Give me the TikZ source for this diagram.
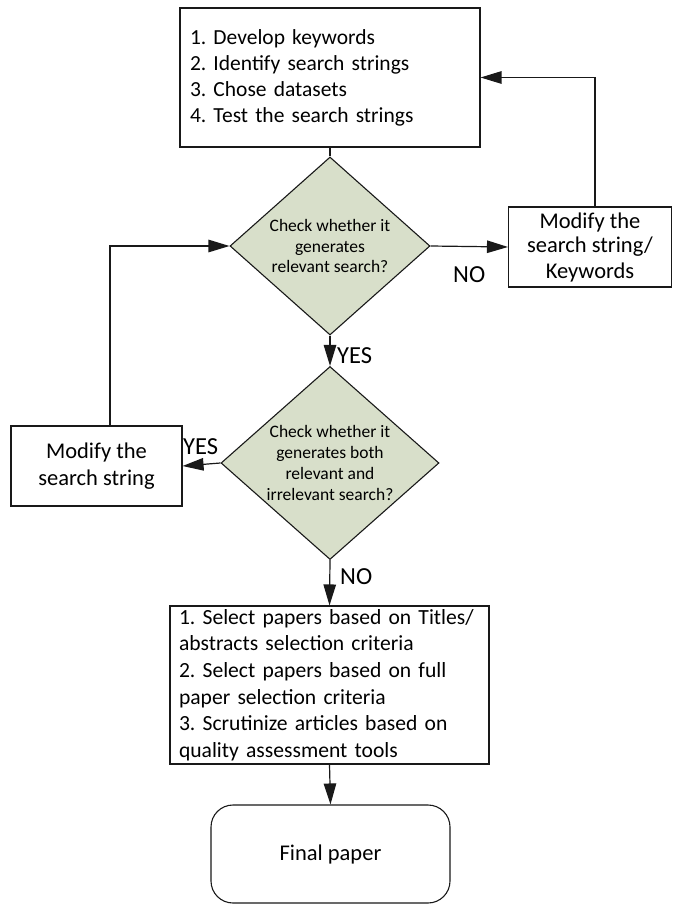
\documentclass[tikz,border=0pt]{standalone}
\usepackage{fontspec}
\setmainfont{Carlito}
\usetikzlibrary{shapes.geometric,arrows.meta,calc}
\definecolor{dfill}{RGB}{216,223,202}
\definecolor{lc}{RGB}{25,25,25}
\begin{document}
\frenchspacing
\begin{tikzpicture}[x=1pt,y=-1pt,
  box/.style={draw=lc,line width=1.1pt,rectangle,inner sep=0pt},
  dec/.style={draw=lc,line width=1.1pt,diamond,fill=dfill,inner sep=0pt,align=center,
     font=\fontsize{17.5}{20.7}\selectfont},
  conn/.style={draw=lc,line width=1.2pt},
  arr/.style={conn,-{Triangle[length=21pt,width=12.5pt]}},
  lab/.style={font=\fontsize{24.5}{26}\selectfont,inner sep=0pt,anchor=base west}
]
\useasboundingbox (0,0) rectangle (672,904);

\node[box,minimum width=300pt,minimum height=139pt,text width=280pt,align=left,
  font=\fontsize{21.5}{26}\selectfont] (top) at (330,77.5)
  {1. Develop keywords\\2. Identify search strings\\3. Chose datasets\\4. Test the search strings};

\node[dec,aspect=1.12,minimum width=200pt,minimum height=178pt] (d1) at (330,246)
  {Check whether it\\generates\\relevant search?};

\node[box,minimum width=163pt,minimum height=80pt,align=center,
  font=\fontsize{22.5}{25}\selectfont] (rbox) at (590,247)
  {Modify the\\search string/\\Keywords};

\node[dec,aspect=1.13,minimum width=218pt,minimum height=193pt] (d2) at (330,463)
  {Check whether it\\generates both\\relevant and\\irrelevant search?};

\node[box,minimum width=171pt,minimum height=80pt,align=center,
  font=\fontsize{22.5}{26.5}\selectfont] (lbox) at (96.5,466)
  {Modify the\\search string};

\node[box,minimum width=319pt,minimum height=158pt,text width=301pt,align=left,
  font=\fontsize{21.6}{26.6}\selectfont] (bbox) at (329.5,685)
  {1. Select papers based on Titles/\\abstracts selection criteria\\2. Select papers based on full\\paper selection criteria\\3. Scrutinize articles based on\\quality assessment tools};

\node[box,rounded corners=22pt,minimum width=239pt,minimum height=98pt,
  font=\fontsize{22.5}{24}\selectfont] (fin) at (330.5,854) {Final paper};

% connectors
\draw[conn] (top.south) -- (d1.north);
\draw[arr] (d1.east) -- (rbox.west);
\draw[arr] ($(rbox.north)+(5,0)$) |- (top.east);
\draw[arr] (d1.south) -- (d2.north);
\draw[arr] (d2.west) -- (lbox.east);
\draw[arr] ($(lbox.north)+(13.5,0)$) |- (d1.west);
\draw[arr] (d2.south) -- (bbox.north);
\draw[arr] (bbox.south) -- (fin.north);

% labels
\node[lab] (no1) at (453,282) {NO};
\node[lab] (yes1) at (337,363) {YES};
\node[lab] (yes2) at (183,454) {YES};
\node[lab] (no2) at (340,584) {NO};
\end{tikzpicture}
\end{document}
